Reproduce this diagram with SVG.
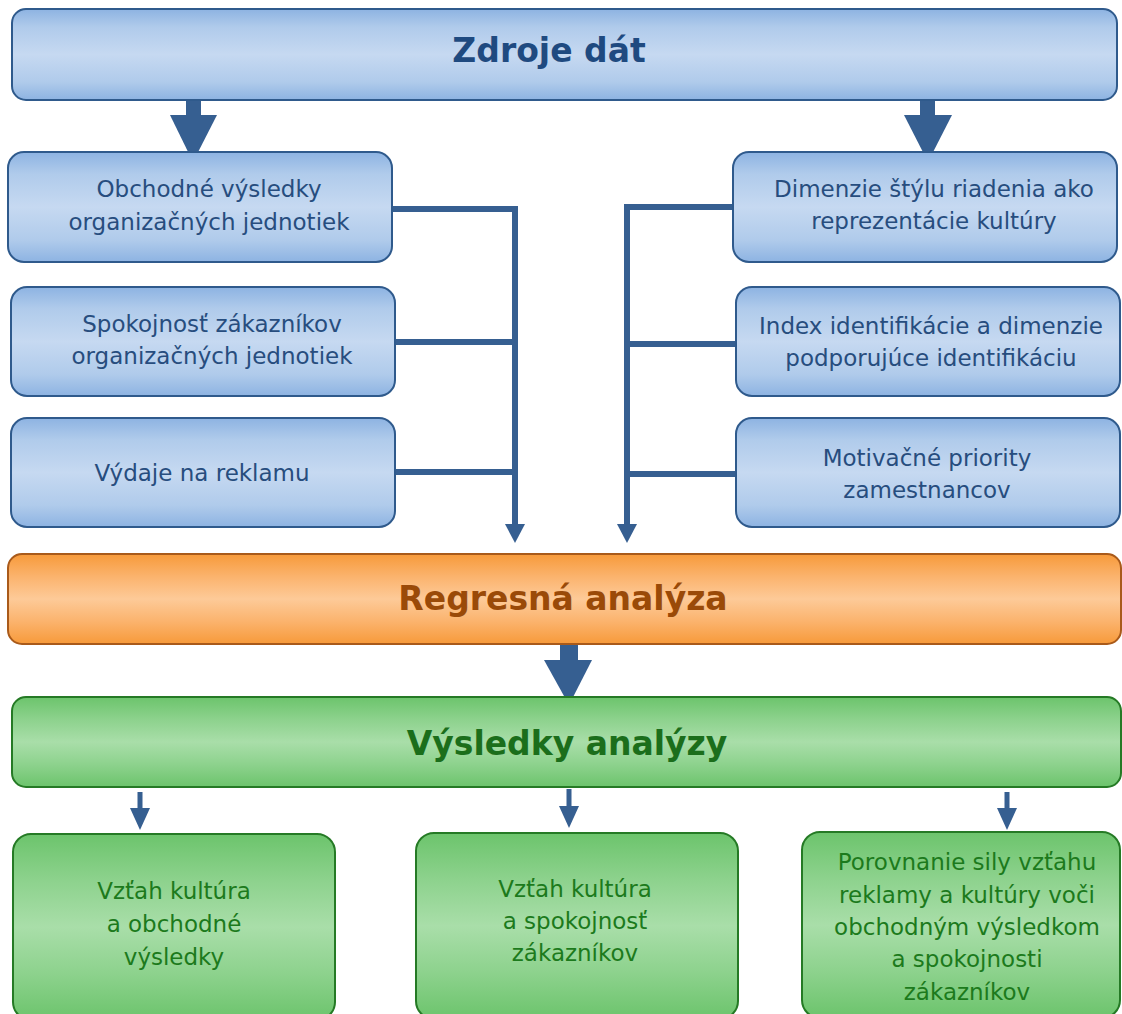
<svg xmlns="http://www.w3.org/2000/svg" width="1122" height="1014" viewBox="0 0 1122 1014">
<defs>
<linearGradient id="gBlue" x1="0" y1="0" x2="0" y2="1">
<stop offset="0" stop-color="#8db3e2"/><stop offset="0.2" stop-color="#b0cbeb"/><stop offset="0.5" stop-color="#c6d9f1"/><stop offset="0.8" stop-color="#b0cbeb"/><stop offset="1" stop-color="#8db3e2"/>
</linearGradient>
<linearGradient id="gOrange" x1="0" y1="0" x2="0" y2="1">
<stop offset="0" stop-color="#f79a3a"/><stop offset="0.25" stop-color="#fbb36d"/><stop offset="0.5" stop-color="#fdca98"/><stop offset="0.75" stop-color="#fbb36d"/><stop offset="1" stop-color="#f79a3a"/>
</linearGradient>
<linearGradient id="gGreen" x1="0" y1="0" x2="0" y2="1">
<stop offset="0" stop-color="#6cc46c"/><stop offset="0.25" stop-color="#8dd28d"/><stop offset="0.5" stop-color="#a9dea9"/><stop offset="0.75" stop-color="#8dd28d"/><stop offset="1" stop-color="#6cc46c"/>
</linearGradient>
<style>
.blue{fill:url(#gBlue);stroke:#2f5a8c;stroke-width:2}
.orange{fill:url(#gOrange);stroke:#a95a1a;stroke-width:2}
.green{fill:url(#gGreen);stroke:#257a25;stroke-width:2}
text{font-family:"DejaVu Sans",Verdana,sans-serif;text-anchor:middle}
.bt{fill:#274d7e;font-size:23px}
.gt{fill:#1c7a1c;font-size:23px}
.title{font-size:33px;font-weight:bold}
.line{stroke:#365f91;stroke-width:6;fill:none}
.head{fill:#365f91}
</style>
</defs>

<g id="connectors">
<rect x="186" y="99" width="15" height="17" class="head"/>
<polygon points="170,115 217,115 193,162" class="head"/>
<rect x="920" y="99" width="15" height="17" class="head"/>
<polygon points="904,115 952,115 928,162" class="head"/>
<path class="line" d="M392,209 H515 V526 M395,342 H515 M395,472 H515"/>
<polygon points="505,524 525,524 515,543" class="head"/>
<path class="line" d="M733,207 H627 V526 M736,344 H627 M736,474 H627"/>
<polygon points="617,524 637,524 627,543" class="head"/>
<rect x="560" y="643" width="18" height="19" class="head"/>
<polygon points="544,660 592,660 569,705" class="head"/>
<rect x="137.5" y="792" width="5" height="17" class="head"/>
<polygon points="130,808 150,808 140,830" class="head"/>
<rect x="566.5" y="789" width="5" height="17" class="head"/>
<polygon points="559,806 579,806 569,828" class="head"/>
<rect x="1004.5" y="792" width="5" height="17" class="head"/>
<polygon points="997,808 1017,808 1007,830" class="head"/>
</g>

<g id="zdroje">
<rect x="12" y="9" width="1105" height="91" rx="14" class="blue"/>
<text x="549" y="62" class="title" fill="#1f4a80">Zdroje dát</text>
</g>

<g id="obchodne">
<rect x="8" y="152" width="384" height="110" rx="16" class="blue"/>
<text x="209" y="197" class="bt">Obchodné výsledky</text>
<text x="209" y="230" class="bt">organizačných jednotiek</text>
</g>
<g id="spokojnost">
<rect x="11" y="287" width="384" height="109" rx="16" class="blue"/>
<text x="212" y="332" class="bt">Spokojnosť zákazníkov</text>
<text x="212" y="364" class="bt">organizačných jednotiek</text>
</g>
<g id="vydaje">
<rect x="11" y="418" width="384" height="109" rx="16" class="blue"/>
<text x="202" y="481" class="bt">Výdaje na reklamu</text>
</g>

<g id="dimenzie">
<rect x="733" y="152" width="384" height="110" rx="16" class="blue"/>
<text x="934" y="197" class="bt">Dimenzie štýlu riadenia ako</text>
<text x="934" y="229" class="bt">reprezentácie kultúry</text>
</g>
<g id="index">
<rect x="736" y="287" width="384" height="109" rx="16" class="blue"/>
<text x="931" y="334" class="bt">Index identifikácie a dimenzie</text>
<text x="931" y="366" class="bt">podporujúce identifikáciu</text>
</g>
<g id="motivacne">
<rect x="736" y="418" width="384" height="109" rx="16" class="blue"/>
<text x="927" y="466" class="bt">Motivačné priority</text>
<text x="927" y="498" class="bt">zamestnancov</text>
</g>

<g id="regresna">
<rect x="8" y="554" width="1113" height="90" rx="14" class="orange"/>
<text x="563" y="610" class="title" fill="#9a4a08">Regresná analýza</text>
</g>

<g id="vysledky">
<rect x="12" y="697" width="1109" height="90" rx="14" class="green"/>
<text x="567" y="755" class="title" fill="#1b6e1b">Výsledky analýzy</text>
</g>

<g id="vztah1">
<rect x="13" y="834" width="322" height="186" rx="18" class="green"/>
<text x="174" y="899" class="gt">Vzťah kultúra</text>
<text x="174" y="932" class="gt">a obchodné</text>
<text x="174" y="965" class="gt">výsledky</text>
</g>
<g id="vztah2">
<rect x="416" y="833" width="322" height="186" rx="18" class="green"/>
<text x="575" y="897" class="gt">Vzťah kultúra</text>
<text x="575" y="929" class="gt">a spokojnosť</text>
<text x="575" y="961" class="gt">zákazníkov</text>
</g>
<g id="porovnanie">
<rect x="802" y="832" width="318" height="186" rx="18" class="green"/>
<text x="967" y="870" class="gt">Porovnanie sily vzťahu</text>
<text x="967" y="903" class="gt">reklamy a kultúry voči</text>
<text x="967" y="935" class="gt">obchodným výsledkom</text>
<text x="967" y="967" class="gt">a spokojnosti</text>
<text x="967" y="1000" class="gt">zákazníkov</text>
</g>
</svg>
